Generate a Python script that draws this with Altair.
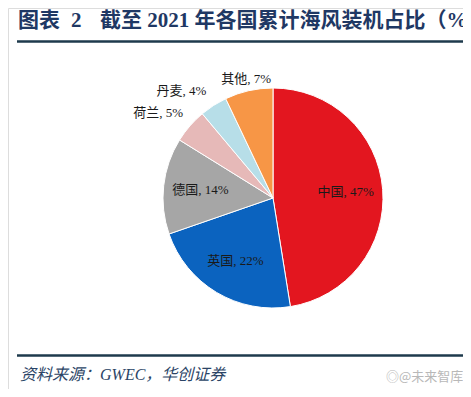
import altair as alt
import pandas as pd

countries = ["中国", "英国", "德国", "荷兰", "丹麦", "其他"]
shares = [47, 22, 14, 5, 4, 7]
colors = ["#E3161F", "#0B63BF", "#A6A6A6", "#E6B9B8", "#B7DEE8", "#F79646"]
label_group = ["in", "in", "in", "out", "dk", "top"]

df = pd.DataFrame({
    "country": countries,
    "share": shares,
    "order": list(range(len(countries))),
    "label": [f"{c}, {v}%" for c, v in zip(countries, shares)],
    "grp": label_group,
})

CX, CY, R = 265, 190, 110

base = alt.Chart(df).encode(
    theta=alt.Theta("share:Q", stack=True),
    order=alt.Order("order:Q"),
)

pie = base.mark_arc(outerRadius=R, stroke="white", strokeWidth=1).encode(
    color=alt.Color("country:N", scale=alt.Scale(domain=countries, range=colors), legend=None),
    x=alt.value(CX), y=alt.value(CY),
)

lab_font = "Liberation Serif, Noto Sans CJK SC"


def label_layer(group, radius, dx=0, dy=0):
    return base.mark_text(radius=radius, dx=dx, dy=dy, fontSize=13, font=lab_font, color="#1a1a1a").encode(
        text="t:N", x=alt.value(CX), y=alt.value(CY),
    ).transform_calculate(t=f"datum.grp == '{group}' ? datum.label : ''")


lab_in = label_layer("in", 73)
lab_out = label_layer("out", 140, dx=-9, dy=7)
lab_dk = label_layer("dk", 140, dx=-16, dy=11)
lab_top = label_layer("top", 122)

ann = pd.DataFrame({"k": [0]})
a = alt.Chart(ann)
title_font = "Liberation Serif, Noto Sans CJK SC"
tcol = "#1F3864"
t1 = a.mark_text(align="left", baseline="middle", fontSize=21, fontWeight="bold", font=title_font, color=tcol).encode(
    x=alt.value(10), y=alt.value(12.5), text=alt.value("图表"))
t2 = a.mark_text(align="left", baseline="middle", fontSize=21, fontWeight="bold", font=title_font, color=tcol).encode(
    x=alt.value(63), y=alt.value(12.5), text=alt.value("2"))
t3 = a.mark_text(align="left", baseline="middle", fontSize=21, fontWeight="bold", font=title_font, color=tcol).encode(
    x=alt.value(92), y=alt.value(12.5), text=alt.value("截至 2021 年各国累计海风装机占比（%"))

line1 = a.mark_rect(color="#1E3A4C").encode(
    x=alt.value(9), x2=alt.value(455), y=alt.value(32.3), y2=alt.value(34.7))
line2 = a.mark_rect(color="#1E3A4C").encode(
    x=alt.value(9), x2=alt.value(455), y=alt.value(346.3), y2=alt.value(348.7))

src = a.mark_text(align="left", baseline="middle", fontSize=16, fontStyle="italic", font=title_font, color="#2B4466").encode(
    x=alt.value(12), y=alt.value(367), text=alt.value("资料来源：GWEC，华创证券"))
wm = a.mark_text(align="left", baseline="middle", fontSize=13, font="Noto Sans CJK SC", color="#B8B8B8").encode(
    x=alt.value(378), y=alt.value(369), text=alt.value("◎@未来智库"))

chart = alt.layer(pie, lab_in, lab_out, lab_dk, lab_top, t1, t2, t3, line1, line2, src, wm).properties(
    width=455, height=381, padding=0, autosize=alt.AutoSizeParams(type="none"),
).configure_view(stroke="#ffffff", strokeOpacity=0, strokeWidth=0).configure(background="white")

chart.save("out.html", embed_options={"renderer": "svg", "actions": False})
